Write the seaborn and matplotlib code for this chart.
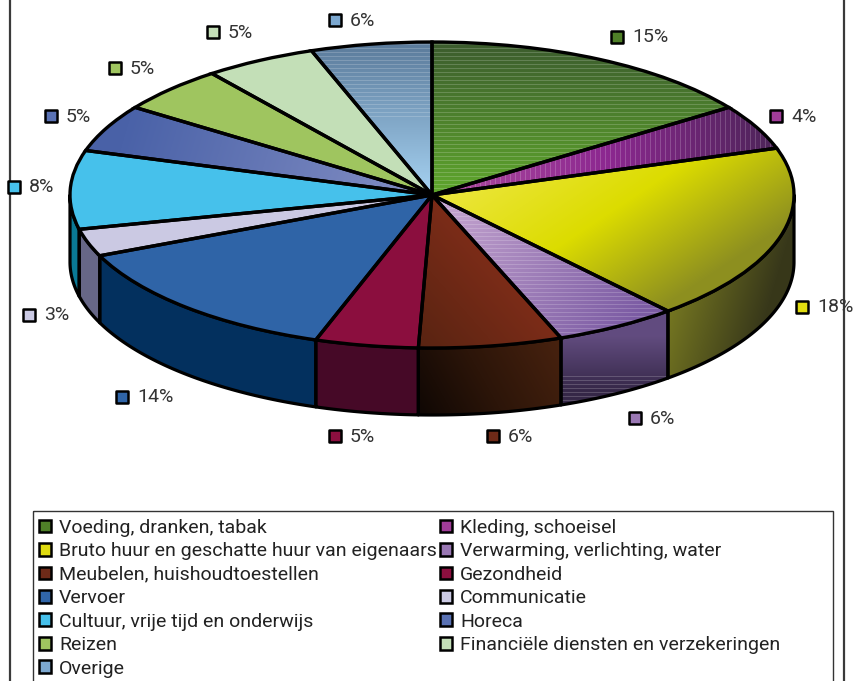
import numpy as np
import pandas as pd
import matplotlib
matplotlib.use("Agg")
import matplotlib.pyplot as plt
from matplotlib.patches import Polygon, Patch, Rectangle
from matplotlib.colors import to_rgb
import seaborn as sns

categories = ["Voeding, dranken, tabak", "Kleding, schoeisel",
              "Bruto huur en geschatte huur van eigenaars", "Verwarming, verlichting, water",
              "Meubelen, huishoudtoestellen", "Gezondheid", "Vervoer", "Communicatie",
              "Cultuur, vrije tijd en onderwijs", "Horeca", "Reizen",
              "Financiële diensten en verzekeringen", "Overige"]
shares = [15.3, 4.75, 18.65, 5.5, 6.4, 4.6, 13.3, 2.9, 8.3, 5.0, 4.9, 5.0, 5.4]
labels = ["15%", "4%", "18%", "6%", "6%", "5%", "14%", "3%", "8%", "5%", "5%", "5%", "6%"]
swatches = ["#4f8028", "#a03c98", "#e0dc10", "#9a78b4", "#6e2a18", "#8c0f3f", "#3065a8",
            "#cbcae4", "#47c1ec", "#5a72b4", "#a0c660", "#c4dfb8", "#7ca8d0"]

# layout in pixels
W, H = 854, 681
CX, CY, RX, RY, DEPTH = 432, 195, 362, 153, 67
label_x = [617, 776, 802, 635, 493, 335, 122, 29, 14, 51, 115, 213, 335]
label_y = [37, 116, 307, 418, 436, 436, 397, 315, 187, 116, 68, 32, 20]

# gradient styles: colour stops, start pixel, end pixel, stripes (axis, period, start, end)
top_styles = [
    (["#3c5c2e", "#5ea52c"], (432, 42), (432, 190), ("y", 4, 0, H)),
    (["#ac4a9e", "#8c2890", "#4c2458"], (440, 190), (775, 130), ("x", 5, 0, W)),
    (["#ece63c", "#dcdc00", "#8d8f20"], (440, 195), (559, 375), None),
    (["#c6a6d0", "#7c5ca4"], (440, 200), (620, 335), ("y", 4, 0, H)),
    (["#7c2c18", "#5a2412"], (500, 270), (420, 340), None),
    (["#8c0f3f"], (0, 0), (1, 1), None),
    (["#3065a8"], (0, 0), (1, 1), None),
    (["#cbcae4"], (0, 0), (1, 1), None),
    (["#47c1ec"], (0, 0), (1, 1), None),
    (["#4a62a8", "#808cc2"], (130, 120), (400, 200), None),
    (["#a0c660"], (0, 0), (1, 1), None),
    (["#c4dfb8"], (0, 0), (1, 1), None),
    (["#5c7c9c", "#a4d0f0"], (370, 45), (370, 190), ("y", 4, 42, 120)),
]
side_styles = {
    2: (["#7c7e22", "#38381a"], (660, 300), (760, 330), None),
    3: (["#624c80", "#362848"], (600, 335), (600, 390), ("y", 4, 375, 405)),
    4: (["#48220f", "#2c1509", "#0a0503"], (560, 340), (410, 425), None),
    5: (["#470a28"], (0, 0), (1, 1), None),
    6: (["#04315f"], (0, 0), (1, 1), None),
    7: (["#686888"], (0, 0), (1, 1), None),
    8: (["#0b7a96"], (0, 0), (1, 1), None),
}


def gradient(style):
    stops, p0, p1, stripes = style
    yy, xx = np.mgrid[0:H, 0:W]
    dx, dy = p1[0] - p0[0], p1[1] - p0[1]
    t = np.clip(((xx - p0[0]) * dx + (yy - p0[1]) * dy) / (dx * dx + dy * dy), 0, 1)
    rgb = np.array([to_rgb(c) for c in stops])
    pos = np.linspace(0, 1, len(stops)) if len(stops) > 1 else np.array([0.0])
    img = np.dstack([np.interp(t, pos, rgb[:, k]) for k in range(3)])
    if stripes:
        axis, period, start, end = stripes
        coord = yy if axis == "y" else xx
        mask = (coord % period == 0) & (coord >= start) & (coord < end)
        img[mask] = img[mask] * 0.82 + 0.18
    return img


sns.set_theme(style="white")
plt.rcParams["font.family"] = ["Roboto", "DejaVu Sans"]
df = pd.DataFrame({"category": categories, "share": shares, "label": labels,
                   "x": label_x, "y": label_y})

fig = plt.figure(figsize=(W / 100, H / 100), dpi=100, facecolor="white")
ax = fig.add_axes([0, 0, 1, 1])
xlim = (-CX / RX, (W - CX) / RX)
ylim = ((CY - H) / RY, CY / RY)
extent = (xlim[0], xlim[1], ylim[0], ylim[1])

# visible side wall
bounds = np.concatenate([[0], np.cumsum(shares)]) / np.sum(shares) * 2 * np.pi
for i, style in side_styles.items():
    a, b = max(bounds[i], np.pi / 2), min(bounds[i + 1], 3 * np.pi / 2)
    th = np.linspace(a, b, 80)
    upper = np.column_stack([np.sin(th), np.cos(th)])
    lower = np.column_stack([np.sin(th[::-1]), np.cos(th[::-1]) - DEPTH / RY])
    poly = Polygon(np.vstack([upper, lower]), closed=True, facecolor="none",
                   edgecolor="black", linewidth=2.3, joinstyle="round", zorder=2)
    ax.add_patch(poly)
    fill = Polygon(poly.get_xy(), closed=True, transform=ax.transData, visible=False)
    ax.add_patch(fill)
    im = ax.imshow(gradient(style), extent=extent, origin="upper", aspect="auto", zorder=1)
    im.set_clip_path(fill)

# top face
wedges, _ = ax.pie(df["share"], startangle=90, counterclock=False, colors=swatches,
                   wedgeprops={"linewidth": 0, "zorder": 3})
for wedge, style in zip(wedges, top_styles):
    im = ax.imshow(gradient(style), extent=extent, origin="upper", aspect="auto", zorder=4)
    im.set_clip_path(wedge)
outline, _ = ax.pie(df["share"], startangle=90, counterclock=False,
                    wedgeprops={"facecolor": "none", "edgecolor": "black", "linewidth": 2.4,
                                "zorder": 5})
ax.set_aspect("auto")
ax.set_xlim(xlim)
ax.set_ylim(ylim)
ax.axis("off")

# overlay in pixel coordinates: frame, value labels, legend
ov = fig.add_axes([0, 0, 1, 1], facecolor="none")
ov.set_xlim(0, W)
ov.set_ylim(H, 0)
ov.axis("off")
for fx in (10, 844):
    ov.plot([fx, fx], [0, H], color="#3a3a3a", lw=1.6, solid_capstyle="butt")
ov.add_patch(Rectangle((33, 511), 800, 190, facecolor="none", edgecolor="#333333", lw=1))
sns.scatterplot(data=df, x="x", y="y", hue="category", palette=swatches, hue_order=categories,
                marker="s", s=72, edgecolor="black", linewidth=1.8, legend=False, ax=ov,
                clip_on=False, zorder=6)
ov.set_xlabel("")
ov.set_ylabel("")
for _, r in df.iterrows():
    ov.text(r["x"] + 15, r["y"] + 0.5, r["label"], fontsize=14, color="#333333",
            va="center", ha="left", zorder=7)

order = list(range(0, 13, 2)) + list(range(1, 13, 2))
handles = [Patch(facecolor=swatches[i], edgecolor="black", linewidth=1.8, label=categories[i])
           for i in order]
ov.legend(handles=handles, ncol=2, loc="upper left", bbox_to_anchor=(34, 514),
          bbox_transform=ov.transData, frameon=False, fontsize=14, labelcolor="#222222",
          handlelength=0.62, handleheight=0.62, handletextpad=0.42, columnspacing=0.15,
          labelspacing=0.28, borderaxespad=0, borderpad=0.25)

fig.savefig("out.png", dpi=100)
